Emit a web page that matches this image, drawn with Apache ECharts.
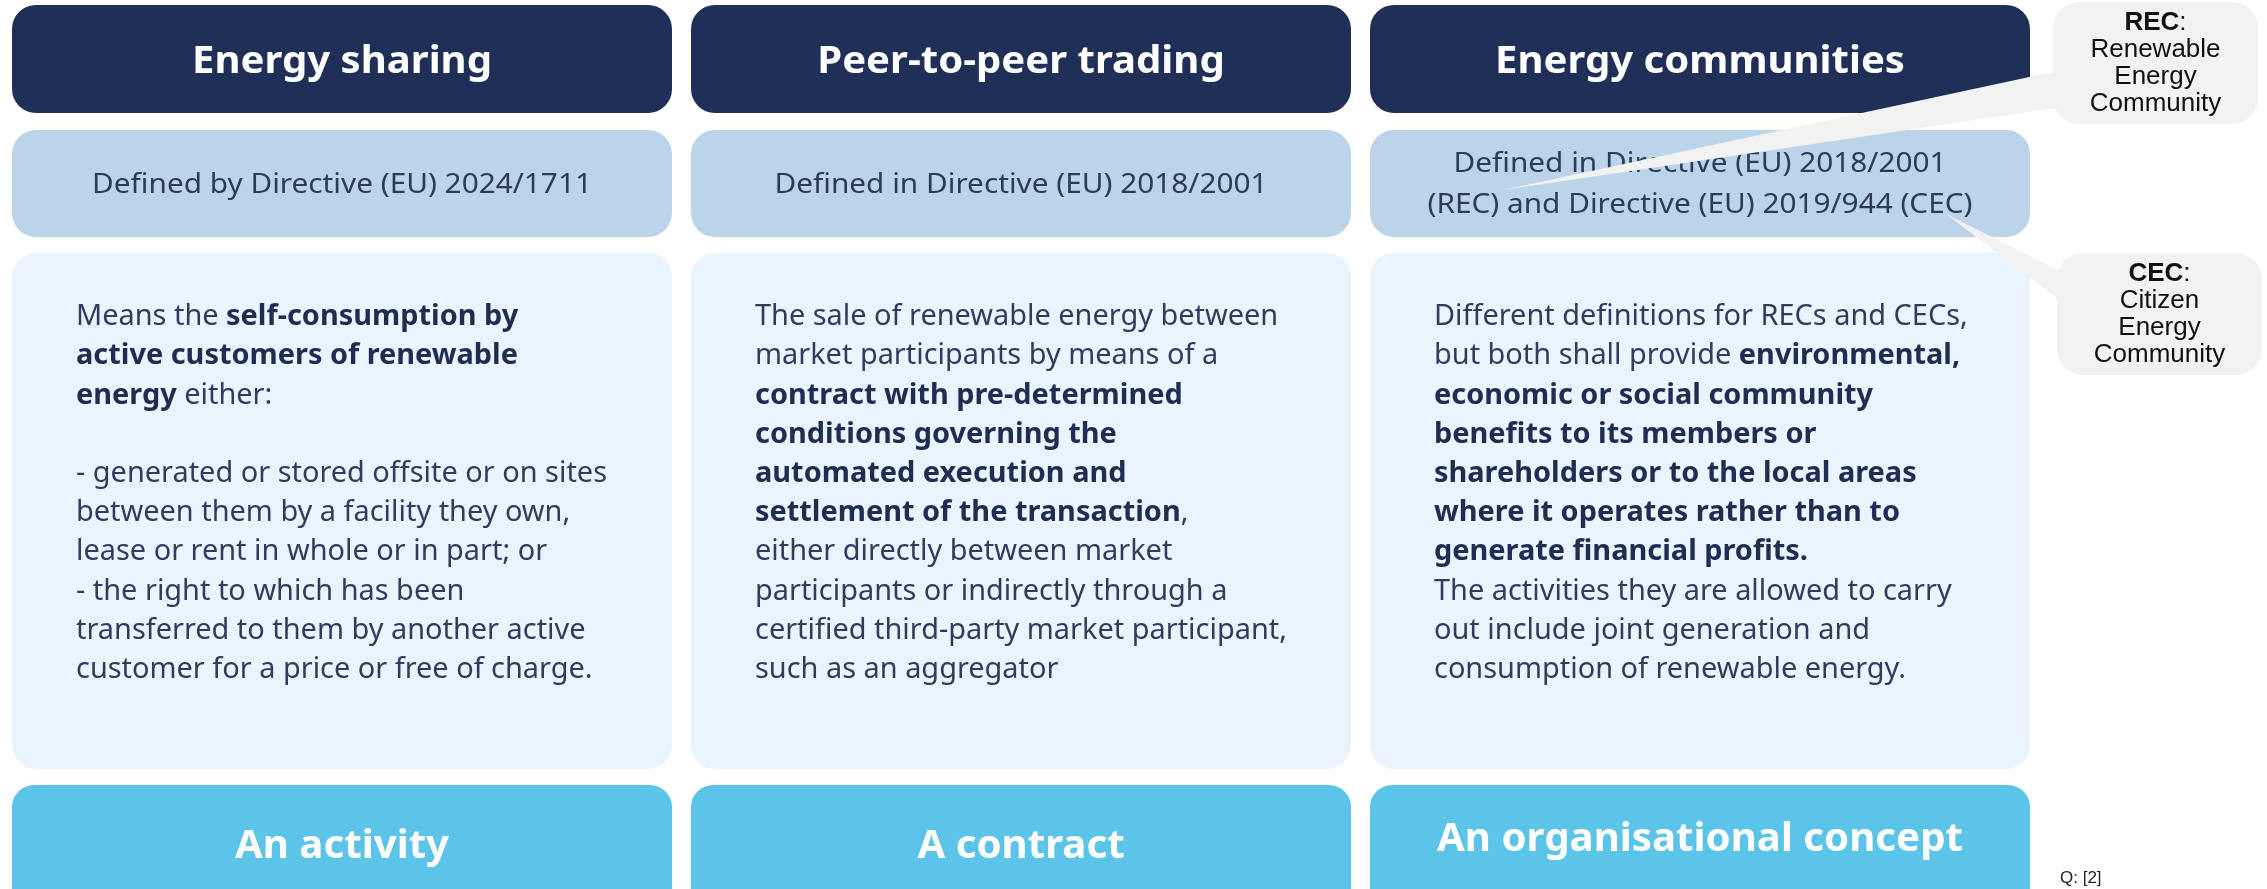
<!DOCTYPE html>
<html>
<head>
    <meta charset="utf-8">
    <title>Energy sharing / Peer-to-peer trading / Energy communities</title>
    <script src="https://cdn.jsdelivr.net/npm/echarts@6.0.0/dist/echarts.min.js"></script>
    <style>
        html, body { margin: 0; padding: 0; background: #fff; }
        #main { width: 2267px; height: 889px; }
    </style>
</head>
<body>
<div id="main"></div>
<script>
    // texts of the three columns
    var titles = ['Energy sharing', 'Peer-to-peer trading', 'Energy communities'];
    var sources = [
        'Defined by Directive (EU) 2024/1711',
        'Defined in Directive (EU) 2018/2001',
        'Defined in Directive (EU) 2018/2001\n(REC) and Directive (EU) 2019/944 (CEC)'
    ];
    // {b|...} = bold run
    var descriptions = [
        ['Means the {b|self-consumption by}',
         '{b|active customers of renewable}',
         '{b|energy} either:',
         '',
         '- generated or stored offsite or on sites',
         'between them by a facility they own,',
         'lease or rent in whole or in part; or',
         '- the right to which has been',
         'transferred to them by another active',
         'customer for a price or free of charge.'],
        ['The sale of renewable energy between',
         'market participants by means of a',
         '{b|contract with pre-determined}',
         '{b|conditions governing the}',
         '{b|automated execution and}',
         '{b|settlement of the transaction},',
         'either directly between market',
         'participants or indirectly through a',
         'certified third-party market participant,',
         'such as an aggregator'],
        ['Different definitions for RECs and CECs,',
         'but both shall provide {b|environmental,}',
         '{b|economic or social community}',
         '{b|benefits to its members or}',
         '{b|shareholders or to the local areas}',
         '{b|where it operates rather than to}',
         '{b|generate financial profits.}',
         'The activities they are allowed to carry',
         'out include joint generation and',
         'consumption of renewable energy.']
    ];
    var natures = ['An activity', 'A contract', 'An organisational concept'];

    // callouts
    var noteKeys = ['REC', 'CEC'];
    var noteLines = [['Renewable', 'Energy', 'Community'], ['Citizen', 'Energy', 'Community']];
    var footnote = 'Q: [2]';

    // layout
    var colX = [12, 691, 1370], colW = 660;
    var natureY = [847, 847, 840];
    var FONT = "'Noto Sans', sans-serif";
    var ARIAL = "'Liberation Sans', Arial, sans-serif";

    // the original font is a condensed one; squeeze Noto Sans to the same widths
    var ctx = document.createElement('canvas').getContext('2d');
    function fitScale(str, font, target) {
        ctx.font = font;
        return target / ctx.measureText(str).width;
    }
    var kTitle = fitScale(titles[0], 'bold 38px ' + FONT, 300);
    var kSource = fitScale(sources[2].split('\n')[1], '27px ' + FONT, 545);
    var kBody = fitScale(descriptions[0][4], '29px ' + FONT, 531);
    var kNature = fitScale(natures[2], 'bold 39px ' + FONT, 526);

    function txt(x, y, s, opt, scaleX, z) {
        var style = {
            text: s, fill: opt.fill, fontSize: opt.size, fontFamily: opt.family || FONT,
            fontWeight: opt.weight || 'normal',
            align: opt.align || 'left', textAlign: opt.align || 'left',
            verticalAlign: 'middle', textVerticalAlign: 'middle'
        };
        if (opt.rich) style.rich = opt.rich;
        return { type: 'text', x: x, y: y, scaleX: scaleX || 1, z: z || 2, style: style };
    }
    function box(x, y, w, h, r, fill, z) {
        return { type: 'rect', z: z || 1, shape: { x: x, y: y, width: w, height: h, r: r }, style: { fill: fill } };
    }

    var els = [];
    for (var i = 0; i < 3; i++) {
        var cx = colX[i] + colW / 2;
        els.push(box(colX[i], 5, colW, 108, 24, '#1f2f58'));
        els.push(txt(cx, 62, titles[i], { fill: '#ffffff', size: 38, weight: 'bold', align: 'center' }, kTitle));

        els.push(box(colX[i], 130, colW, 107, 24, '#bcd4ea'));
        var src = sources[i].split('\n');
        for (var j = 0; j < src.length; j++) {
            var sy = 185 + (j - (src.length - 1) / 2) * 41;
            els.push(txt(cx, sy, src[j], { fill: '#2d3a5c', size: 27, align: 'center' }, kSource));
        }

        els.push(box(colX[i], 253, colW, 516, 24, '#e9f4fe'));
        descriptions[i].forEach(function (line, k) {
            if (!line) return;
            els.push(txt(colX[i] + 64, 317 + k * 39.2, line, {
                fill: '#2f3c5e', size: 29,
                rich: { b: { fontWeight: 'bold', fontSize: 29, fontFamily: FONT, fill: '#1f2d52' } }
            }, kBody));
        });

        els.push(box(colX[i], 785, colW, 130, 22, '#5dc4e9'));
        els.push(txt(cx, natureY[i], natures[i], { fill: '#ffffff', size: 39, weight: 'bold', align: 'center' }, kNature));
    }

    // callout pointers and bubbles
    els.push({ type: 'polygon', z: 3, shape: { points: [[1503, 190], [2062, 70], [2062, 107]] }, style: { fill: '#f2f2f2' } });
    els.push({ type: 'polygon', z: 3, shape: { points: [[1946, 214], [2062, 272], [2062, 302]] }, style: { fill: '#f2f2f2' } });
    var bubbleY = [2, 253];
    var bubbleX = [2053, 2057];
    for (var n = 0; n < 2; n++) {
        els.push(box(bubbleX[n], bubbleY[n], 205, 122, 26, '#f2f2f2', 4));
        var lines = ['{b|' + noteKeys[n] + '}:'].concat(noteLines[n]);
        var bx = bubbleX[n] + 102.5, by = bubbleY[n] + 61;
        lines.forEach(function (l, k) {
            els.push(txt(bx, by + (k - 1.5) * 27, l, {
                fill: '#111111', size: 26, family: ARIAL, align: 'center',
                rich: { b: { fontWeight: 'bold', fontSize: 26, fontFamily: ARIAL, fill: '#111111' } }
            }, 1, 5));
        });
    }
    els.push(txt(2060, 878, footnote, { fill: '#222222', size: 17, family: ARIAL }, 1, 5));

    var myChart = echarts.init(document.getElementById('main'));
    myChart.setOption({
        animation: false,
        graphic: { elements: els }
    });
</script>
</body>
</html>
